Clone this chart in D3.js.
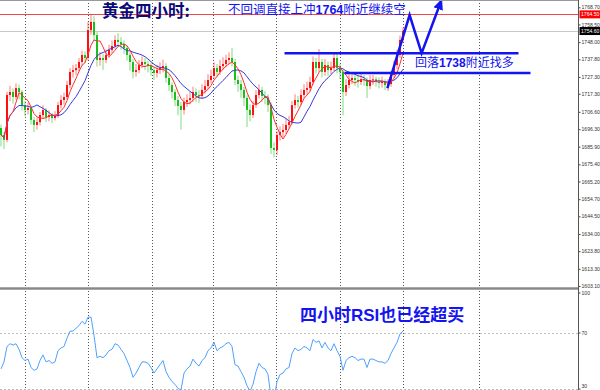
<!DOCTYPE html>
<html>
<head>
<meta charset="utf-8">
<script src="https://cdn.jsdelivr.net/npm/d3@7"></script>
<style>
  body { margin: 0; background: #fff; }
  svg { display: block; }
</style>
</head>
<body>
<svg id="chart" width="600" height="390"></svg>
<script>
// gold 4H candles
const opens = [1697.0,1692.8,1689.9,1716.6,1718.4,1715.4,1720.7,1718.4,1710.6,1707.7,
  1708.9,1701.7,1698.8,1700.5,1704.7,1707.7,1703.5,1704.7,1702.9,1704.1,
  1710.6,1713.6,1715.4,1722.5,1730.3,1731.4,1732.6,1736.2,1740.4,1738.6,
  1755.2,1760.0,1752.2,1737.4,1738.6,1737.4,1740.4,1743.3,1745.7,1749.3,
  1748.1,1746.9,1744.5,1740.4,1736.2,1730.3,1731.4,1734.4,1736.2,1735.0,
  1733.8,1731.4,1729.7,1731.4,1732.6,1733.8,1726.7,1722.5,1718.4,1713.6,
  1710.1,1707.7,1712.4,1713.6,1714.8,1718.4,1716.6,1716.0,1719.6,1721.9,
  1725.5,1727.9,1732.6,1730.3,1733.8,1735.0,1737.4,1738.6,1736.2,1725.5,
  1723.1,1719.6,1714.8,1707.7,1704.7,1710.6,1716.6,1719.6,1716.0,1714.8,
  1710.6,1685.1,1683.9,1692.8,1694.6,1695.8,1698.8,1700.5,1710.6,1713.6,
  1712.4,1716.6,1719.6,1720.7,1724.3,1736.2,1732.6,1736.2,1730.3,1734.4,
  1731.4,1732.6,1738.6,1732.6,1730.3,1718.4,1722.5,1725.5,1726.7,1725.5,
  1724.3,1726.1,1725.5,1721.9,1725.5,1725.9,1724.3,1723.7,1724.3,1722.5,
  1723.1,1728.5,1734.4,1740.4,1749.3];
const closes = [1692.8,1689.9,1716.6,1718.4,1715.4,1720.7,1718.4,1710.6,1707.7,1708.9,
  1701.7,1698.8,1700.5,1704.7,1707.7,1703.5,1704.7,1702.9,1704.1,1710.6,
  1713.6,1715.4,1722.5,1730.3,1731.4,1732.6,1736.2,1740.4,1738.6,1755.2,
  1760.0,1752.2,1737.4,1738.6,1737.4,1740.4,1743.3,1745.7,1749.3,1748.1,
  1746.9,1744.5,1740.4,1736.2,1730.3,1731.4,1734.4,1736.2,1735.0,1733.8,
  1731.4,1729.7,1731.4,1732.6,1733.8,1726.7,1722.5,1718.4,1713.6,1710.1,
  1707.7,1712.4,1713.6,1714.8,1718.4,1716.6,1716.0,1719.6,1721.9,1725.5,
  1727.9,1732.6,1730.3,1733.8,1735.0,1737.4,1738.6,1736.2,1725.5,1723.1,
  1719.6,1714.8,1707.7,1704.7,1710.6,1716.6,1719.6,1716.0,1714.8,1710.6,
  1685.1,1683.9,1692.8,1694.6,1695.8,1698.8,1700.5,1710.6,1713.6,1712.4,
  1716.6,1719.6,1720.7,1724.3,1736.2,1732.6,1736.2,1730.3,1734.4,1731.4,
  1732.6,1738.6,1732.6,1730.3,1718.4,1722.5,1725.5,1726.7,1725.5,1724.3,
  1726.1,1725.5,1721.9,1725.5,1725.9,1724.3,1723.7,1724.3,1722.5,1723.1,
  1728.5,1734.4,1740.4,1749.3,1754.6];
const highs = [1699.0,1694.5,1718.5,1722.0,1720.5,1723.5,1722.8,1719.5,1713.0,1712.0,
  1710.0,1703.5,1703.0,1706.5,1710.5,1709.0,1707.5,1706.0,1707.0,1712.5,
  1716.5,1718.0,1725.0,1732.5,1734.5,1735.0,1738.5,1743.0,1742.5,1760.0,
  1764.3,1763.5,1754.0,1742.0,1741.0,1743.5,1746.5,1749.0,1752.0,1753.4,
  1751.0,1749.0,1746.0,1742.0,1738.0,1735.0,1737.5,1739.5,1738.5,1737.0,
  1736.0,1733.5,1734.5,1736.0,1737.5,1735.5,1729.0,1724.0,1720.0,1716.0,
  1712.5,1715.0,1717.0,1718.5,1721.5,1720.5,1719.5,1723.0,1725.5,1729.0,
  1731.5,1736.0,1735.0,1737.5,1739.0,1740.5,1742.0,1744.5,1738.0,1728.0,
  1725.5,1721.5,1716.5,1711.0,1713.0,1719.5,1723.0,1721.5,1719.0,1717.0,
  1712.0,1688.5,1695.0,1698.0,1699.5,1702.5,1704.0,1713.0,1717.0,1716.0,
  1720.0,1723.0,1724.5,1727.5,1739.5,1738.5,1743.9,1738.0,1738.0,1736.5,
  1736.5,1742.0,1741.0,1735.0,1731.5,1726.0,1729.0,1730.0,1729.0,1728.5,
  1729.5,1728.5,1727.0,1728.5,1728.5,1727.5,1727.0,1727.5,1726.0,1726.0,
  1731.0,1737.0,1743.5,1752.0,1756.5];
const lows = [1686.0,1684.5,1688.5,1713.0,1711.5,1713.8,1714.0,1707.5,1704.0,1705.0,
  1699.0,1694.5,1696.0,1698.5,1703.0,1700.5,1701.0,1700.0,1701.5,1703.0,
  1708.5,1711.0,1714.0,1720.5,1727.0,1728.5,1730.5,1734.0,1735.5,1737.0,
  1752.5,1749.0,1733.5,1734.0,1731.5,1735.5,1738.5,1741.5,1744.0,1745.0,
  1743.5,1741.0,1737.0,1731.0,1726.5,1727.5,1729.5,1732.5,1731.5,1730.0,
  1728.0,1725.5,1727.0,1729.0,1730.0,1724.0,1719.0,1714.5,1710.0,1704.5,
  1696.0,1705.0,1709.5,1711.0,1712.5,1712.5,1712.0,1714.5,1717.5,1720.0,
  1723.5,1726.5,1727.0,1728.5,1731.5,1733.0,1735.0,1733.5,1722.5,1718.5,
  1715.0,1710.0,1697.5,1701.0,1703.0,1709.0,1714.5,1712.5,1711.0,1706.5,
  1681.5,1679.5,1681.0,1689.5,1691.5,1693.5,1696.5,1699.0,1708.5,1709.0,
  1710.5,1714.5,1717.0,1718.5,1722.5,1729.5,1730.0,1727.0,1728.0,1728.0,
  1729.0,1731.0,1729.5,1726.0,1704.5,1716.0,1720.5,1723.0,1722.0,1721.0,
  1722.5,1722.0,1714.8,1720.0,1722.5,1721.5,1720.5,1721.0,1719.5,1719.0,
  1721.5,1726.5,1732.0,1738.5,1747.5];

// RSI
const rsiValues = [44,49,60,62,61,62,58,52,50,51,
  45,43,44,50,54,49,50,48,49,57,
  59,60,66,71,71,73,75,78,76,81,
  81,68,52,53,52,54,57,58,62,61,
  58,55,50,45,38,41,45,49,49,48,
  45,41,44,47,50,42,38,35,33,30,
  29,41,44,46,51,48,46,50,52,57,
  59,63,57,59,60,62,63,60,47,46,
  42,38,32,28,33,42,48,45,44,40,
  24,22,35,40,41,44,45,55,59,57,
  58,60,59,57,65,63,64,59,63,59,
  57,62,57,53,43,50,52,53,52,50,
  51,51,45,51,51,50,49,49,48,50,
  55,59,63,69,71];

const priceTicks = [1768.7,1758.5,1748.0,1737.8,1727.3,1717.3,1706.6,1696.3,1685.9,
  1675.4,1665.2,1654.7,1644.5,1634.0,1623.8,1613.3,1603.1];
const rsiTicks = [100, 70, 30];
const redLevel = 1764.5;
const lastPrice = 1754.6;
const fastPeriod = 5;
const slowPeriod = 11;

// drawn analysis: support lines and expected path (bar index, price)
const supportLines = [
  { price: 1741.4, from: 94.5, to: 172.5 },
  { price: 1729.7, from: 114.5, to: 176.5 }
];
const pathUp = [[128.8, 1720.7], [136.2, 1764.1], [140.2, 1741.5], [146.5, 1771.4]];

const svg = d3.select('svg#chart');
const plotRight = 578.5;
const gridX = [25.5, 88.5, 152.5, 213.5, 276.5, 340.5, 403.5, 479.5];
const blue = '#1414f0';
const axisFont = '"Liberation Sans", Arial, sans-serif';

const x = d3.scaleLinear().domain([0, closes.length - 1]).range([1, 403]);
const y = d3.scaleLinear().domain([1603.1, 1768.7]).range([286, 7.3]);
const yRsi = d3.scaleLinear().domain([30, 70]).range([388.5, 332.5]);

svg.append('rect').attr('width', 600).attr('height', 390).attr('fill', '#fff');

const defs = svg.append('defs');
defs.append('clipPath').attr('id', 'mainClip')
  .append('rect').attr('x', 0).attr('y', 0).attr('width', plotRight).attr('height', 287);
defs.append('clipPath').attr('id', 'rsiClip')
  .append('rect').attr('x', 0).attr('y', 290).attr('width', plotRight).attr('height', 100);
defs.append('marker')
  .attr('id', 'head')
  .attr('viewBox', '0 -5 10 10')
  .attr('refX', 6)
  .attr('markerUnits', 'userSpaceOnUse')
  .attr('markerWidth', 11)
  .attr('markerHeight', 11)
  .attr('orient', 'auto')
  .append('path').attr('d', 'M0,-4.5L10,0L0,4.5Z').attr('fill', blue);

// grid
svg.append('g').selectAll('line').data(gridX).enter()
  .append('line')
  .attr('x1', (d) => d).attr('x2', (d) => d)
  .attr('y1', 0).attr('y2', 390)
  .attr('stroke', '#555')
  .attr('stroke-dasharray', '1,2');

svg.append('g').selectAll('line').data([70, 30]).enter()
  .append('line')
  .attr('x1', 0).attr('x2', plotRight)
  .attr('y1', (d) => Math.round(yRsi(d)) + 0.5).attr('y2', (d) => Math.round(yRsi(d)) + 0.5)
  .attr('stroke', '#bbb')
  .attr('stroke-dasharray', '2,2');

const main = svg.append('g').attr('clip-path', 'url(#mainClip)');

main.append('line')
  .attr('x1', 0).attr('x2', plotRight)
  .attr('y1', Math.round(y(redLevel)) + 0.5).attr('y2', Math.round(y(redLevel)) + 0.5)
  .attr('stroke', '#f04848');
main.append('line')
  .attr('x1', 0).attr('x2', plotRight)
  .attr('y1', Math.round(y(lastPrice)) + 0.5).attr('y2', Math.round(y(lastPrice)) + 0.5)
  .attr('stroke', '#c8c8c8');

// candles
const candleColor = (i) => (closes[i] >= opens[i] ? '#ff1010' : '#18c018');
main.append('g').selectAll('g.candle').data(closes).enter()
  .append('g')
  .attr('class', 'candle')
  .each(function(d, i) {
    const g = d3.select(this);
    g.append('rect')
      .attr('x', x(i) - 0.5)
      .attr('y', y(highs[i]))
      .attr('width', 1)
      .attr('height', y(lows[i]) - y(highs[i]))
      .attr('fill', candleColor(i))
      .attr('opacity', 0.55);
    const top = y(Math.max(opens[i], closes[i]));
    const bottom = y(Math.min(opens[i], closes[i]));
    g.append('rect')
      .attr('x', x(i) - 1)
      .attr('y', top)
      .attr('width', 2)
      .attr('height', Math.max(1, bottom - top))
      .attr('fill', candleColor(i));
  });

// moving averages of the closes
function sma(values, n) {
  return values.map((v, i) => d3.mean(values.slice(Math.max(0, i - n + 1), i + 1)));
}
const line = d3.line().x((d, i) => x(i)).y((d) => y(d));
main.append('path')
  .attr('d', line(sma(closes, slowPeriod)))
  .attr('fill', 'none').attr('stroke', '#3a3ad8').attr('stroke-width', 1);
main.append('path')
  .attr('d', line(sma(closes, fastPeriod)))
  .attr('fill', 'none').attr('stroke', '#ff3030').attr('stroke-width', 1);

// analysis drawings
main.append('g').selectAll('line').data(supportLines).enter()
  .append('line')
  .attr('x1', (d) => x(d.from)).attr('x2', (d) => x(d.to))
  .attr('y1', (d) => y(d.price)).attr('y2', (d) => y(d.price))
  .attr('stroke', blue).attr('stroke-width', 2.5);

main.append('path')
  .attr('d', d3.line().x((d) => x(d[0])).y((d) => y(d[1]))(pathUp))
  .attr('fill', 'none')
  .attr('stroke', blue)
  .attr('stroke-width', 2.5)
  .attr('stroke-linejoin', 'miter')
  .attr('marker-end', 'url(#head)');

// RSI
svg.append('g').attr('clip-path', 'url(#rsiClip)')
  .append('path')
  .attr('d', d3.line().x((d, i) => x(i)).y((d) => yRsi(d))(rsiValues))
  .attr('fill', 'none')
  .attr('stroke', '#4da0ff')
  .attr('stroke-width', 1);

// panel separator and frame
svg.append('rect').attr('x', 0).attr('y', 287).attr('width', plotRight).attr('height', 3).attr('fill', '#a8a8a8');
svg.append('line').attr('x1', 0).attr('x2', plotRight).attr('y1', 288.5).attr('y2', 288.5).attr('stroke', '#888');
svg.append('line').attr('x1', 0).attr('x2', plotRight).attr('y1', 0.5).attr('y2', 0.5).attr('stroke', '#999');

// right axes
const priceAxis = svg.append('g')
  .attr('transform', `translate(${plotRight},0)`)
  .call(d3.axisRight(y).tickValues(priceTicks).tickSize(2).tickPadding(1).tickFormat(d3.format('.2f')));
const rsiAxis = svg.append('g')
  .attr('transform', `translate(${plotRight},0)`)
  .call(d3.axisRight(yRsi).tickValues(rsiTicks).tickSize(2).tickPadding(1));
rsiAxis.selectAll('.tick').filter((d) => d === 100).attr('transform', 'translate(0,293)');
rsiAxis.selectAll('.tick').filter((d) => d === 30).select('text').attr('dy', '-0.2em');
[priceAxis, rsiAxis].forEach((ax) => {
  ax.select('.domain').remove();
  ax.selectAll('.tick line').attr('stroke', '#444');
  ax.selectAll('.tick text')
    .attr('font-family', axisFont)
    .attr('font-size', 5.1)
    .attr('fill', '#333');
});
svg.append('line').attr('x1', plotRight).attr('x2', plotRight).attr('y1', 0).attr('y2', 390).attr('stroke', '#555');

function priceBadge(price, fill) {
  const g = svg.append('g').attr('transform', `translate(${plotRight + 1},${y(price)})`);
  g.append('rect').attr('x', 0).attr('y', -4).attr('width', 21).attr('height', 8).attr('fill', fill);
  g.append('text').attr('x', 1.5).attr('y', 2)
    .attr('font-family', axisFont)
    .attr('font-size', 5.1).attr('fill', '#fff')
    .text(d3.format('.2f')(price));
}
priceBadge(redLevel, '#ff0000');
priceBadge(lastPrice, '#000');

// texts
const cjk = '"Noto Sans CJK SC", sans-serif';
const latinBold = '"Liberation Sans", Arial, sans-serif';

svg.append('text')
  .attr('x', 102).attr('y', 17)
  .attr('font-family', cjk).attr('font-size', 16.5).attr('font-weight', 700)
  .attr('fill', '#0a0a78')
  .text('黄金四小时:');

function mixedText(px, py, size, weight, parts) {
  const t = svg.append('text')
    .attr('x', px).attr('y', py)
    .attr('font-family', cjk).attr('font-size', size).attr('font-weight', weight)
    .attr('fill', blue);
  parts.forEach((p) => {
    const s = t.append('tspan').text(p);
    if (/^[0-9A-Z]+$/.test(p)) s.attr('font-family', latinBold).attr('font-weight', 700);
  });
}
mixedText(228, 14, 12.5, 400, ['不回调直接上冲', '1764', '附近继续空']);
mixedText(415, 67, 12, 400, ['回落', '1738', '附近找多']);
mixedText(300, 321, 17, 700, ['四小时', 'RSI', '也已经超买']);
</script>
</body>
</html>
